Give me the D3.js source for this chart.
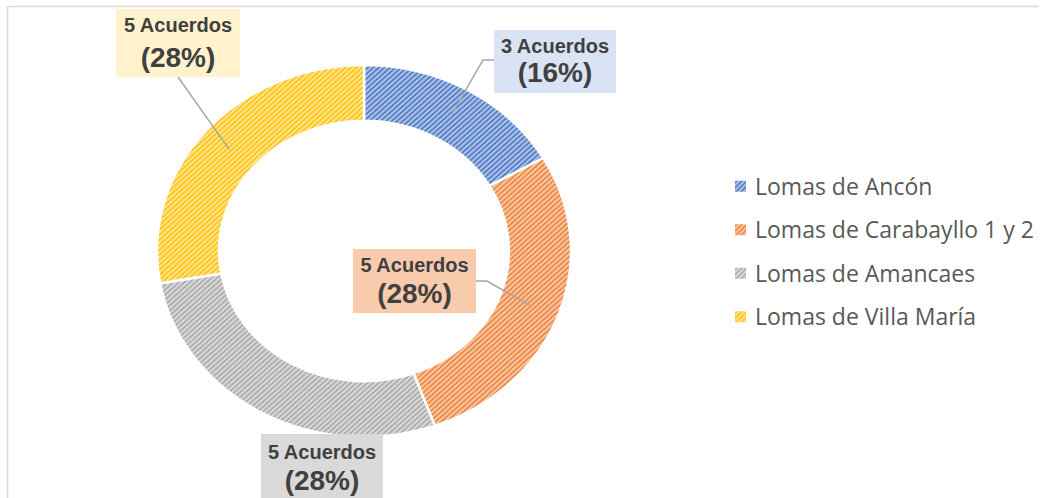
<!DOCTYPE html>
<html>
<head>
<meta charset="utf-8">
<script src="https://cdn.jsdelivr.net/npm/d3@7"></script>
<style>
  body { margin: 0; background: #fff; }
  svg { display: block; }
</style>
</head>
<body>
<svg id="chart" width="1049" height="498"></svg>
<script>
// data
var categories = ["Lomas de Ancón", "Lomas de Carabayllo 1 y 2", "Lomas de Amancaes", "Lomas de Villa María"]
var acuerdos = [3, 5, 5, 5]
var porcentajes = ["16%", "28%", "28%", "28%"]
var colors = ["#4472C4", "#ED7D31", "#A5A5A5", "#FFC000"]
var boxColors = ["#DAE3F3", "#F8CBAD", "#D9D9D9", "#FFF2CC"]

var W = 1049, H = 498
var CX = 364, CY = 251
var R = 186, INNER = 0.7
var STRETCH = 1.113

var chart = d3.select("#chart")
var defs = chart.append("defs")

// hatch fills, one per series
colors.forEach(function (c, i) {
	var p = defs.append("pattern")
		.attr("id", "hatch" + i)
		.attr("patternUnits", "userSpaceOnUse")
		.attr("width", 5).attr("height", 5)
	p.append("rect").attr("width", 5).attr("height", 5)
		.attr("fill", d3.interpolateRgb(c, "#fff")(0.55))
	p.append("path")
		.attr("d", "M0,5 L5,0 M-1,1 L1,-1 M4,6 L6,4")
		.attr("stroke", c).attr("stroke-width", 1.3)
})

// frame (top and left edge visible)
chart.append("path")
	.attr("d", "M7.5," + H + " L7.5,6.5 L1039," + 6.5)
	.attr("fill", "none").attr("stroke", "#d9d9d9").attr("stroke-width", 1.5)

var pie = d3.pie().sort(null).value(d => d)
var arcs = pie(acuerdos)
var arc = d3.arc().innerRadius(R * INNER).outerRadius(R)
var mid = d3.arc().innerRadius(R * (1 + INNER) / 2).outerRadius(R * (1 + INNER) / 2)

var g = chart.append("g")
	.attr("transform", "translate(" + CX + "," + CY + ") scale(" + STRETCH + ",1)")

g.selectAll("path.slice").data(arcs)
	.enter().append("path")
		.attr("class", "slice")
		.attr("d", arc)
		.attr("fill", (_, i) => "url(#hatch" + i + ")")
		.attr("stroke", "#fff")
		.attr("stroke-width", 2.5)
		.attr("vector-effect", "non-scaling-stroke")

// centroid in page coords
function anchor(i) {
	var c = mid.centroid(arcs[i])
	return [CX + c[0] * STRETCH, CY + c[1]]
}

// label boxes: [x, y, w, h], line offsets, leader start/elbow
var boxes = [
	{ x: 494, y: 30, w: 122, h: 63, t1: 23, t2: 52, lead: [[494, 60], [483, 60]] },
	{ x: 353, y: 249, w: 123, h: 64, t1: 23, t2: 54, lead: [[476, 281], [487, 281]] },
	{ x: 261, y: 434, w: 122, h: 66, t1: 25, t2: 56, lead: null },
	{ x: 116, y: 9, w: 124, h: 68, t1: 23, t2: 58, lead: [[178, 77]] }
]

var leaders = chart.append("g")
boxes.forEach(function (b, i) {
	if (!b.lead) return
	var pts = b.lead.concat([anchor(i)])
	leaders.append("path")
		.attr("d", d3.line()(pts))
		.attr("fill", "none")
		.attr("stroke", "#a6a6a6")
		.attr("stroke-width", 1.5)
})

var labels = chart.append("g").attr("font-family", "'Liberation Sans', Arial, sans-serif")
	.attr("font-weight", "bold").attr("fill", "#404040").attr("text-anchor", "middle")
boxes.forEach(function (b, i) {
	labels.append("rect")
		.attr("x", b.x).attr("y", b.y).attr("width", b.w).attr("height", b.h)
		.attr("fill", boxColors[i])
	labels.append("text")
		.attr("x", b.x + b.w / 2).attr("y", b.y + b.t1)
		.attr("font-size", "20px")
		.text(acuerdos[i] + " Acuerdos")
	labels.append("text")
		.attr("x", b.x + b.w / 2).attr("y", b.y + b.t2)
		.attr("font-size", "28px")
		.text("(" + porcentajes[i] + ")")
})

// legend
var ly = d3.scaleBand().domain(categories).range([166, 340])
var legend = chart.append("g")
var rows = legend.selectAll("g").data(categories).enter().append("g")
	.attr("transform", d => "translate(735," + (ly(d) + ly.bandwidth() / 2 + 5) + ")")
rows.append("rect")
	.attr("x", 0).attr("y", -12).attr("width", 11).attr("height", 11)
	.attr("fill", (_, i) => "url(#hatch" + i + ")")
rows.append("text")
	.attr("x", 20).attr("y", 2)
	.attr("font-family", "'Open Sans', sans-serif")
	.attr("font-size", "23px")
	.attr("fill", "#595959")
	.text(d => d)
</script>
</body>
</html>
